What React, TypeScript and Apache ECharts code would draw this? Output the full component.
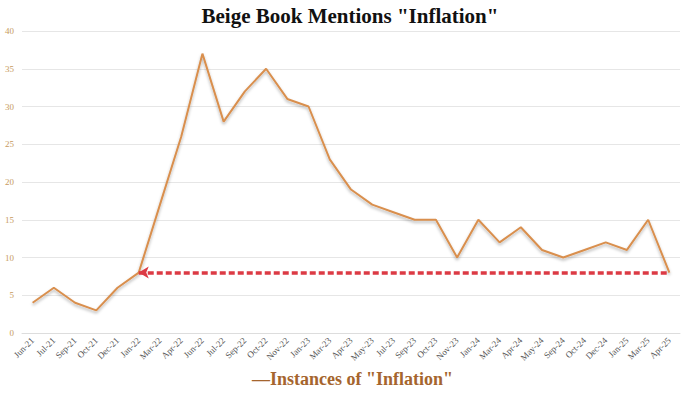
import React, { useEffect, useRef } from "react";
import * as echarts from "echarts";

const categories = [
  "Jun-21", "Jul-21", "Sep-21", "Oct-21", "Dec-21", "Jan-22", "Mar-22", "Apr-22",
  "Jun-22", "Jul-22", "Sep-22", "Oct-22", "Nov-22", "Jan-23", "Mar-23", "Apr-23",
  "May-23", "Jul-23", "Sep-23", "Oct-23", "Nov-23", "Jan-24", "Mar-24", "Apr-24",
  "May-24", "Sep-24", "Oct-24", "Dec-24", "Jan-25", "Mar-25", "Apr-25",
];
const inflationMentions = [
  4, 6, 4, 3, 6, 8, 17, 26,
  37, 28, 32, 35, 31, 30, 23, 19,
  17, 16, 15, 15, 10, 15, 12, 14,
  11, 10, 11, 12, 11, 15, 8,
];
const seriesName = 'Instances of "Inflation"';
const titleText = 'Beige Book Mentions "Inflation"';
const arrowFrom = "Jan-22";
const arrowTo = "Apr-25";
const arrowLevel = 8;

export default function App() {
  const ref = useRef<HTMLDivElement>(null);
  useEffect(() => {
    if (!ref.current) return;
    const chart = echarts.init(ref.current, null, { renderer: "svg" });
    const serif = "'Liberation Serif', 'DejaVu Serif', serif";
    chart.setOption({
      animation: false,
      backgroundColor: "#ffffff",
      title: {
        text: titleText,
        left: "center",
        top: 0,
        textStyle: { fontFamily: serif, fontWeight: "bold", fontSize: 21, color: "#111" },
      },
      legend: {
        bottom: 1,
        left: "center",
        icon: "none",
        itemWidth: 0,
        itemGap: 0,
        formatter: (n: string) => "\u2014" + n,
        textStyle: { fontFamily: serif, fontWeight: "bold", fontSize: 18, color: "#a5652e" },
      },
      grid: { left: 22, right: 20, top: 31, bottom: 61 },
      xAxis: {
        type: "category",
        data: categories,
        boundaryGap: true,
        axisLine: { show: true, lineStyle: { color: "#dddddd" } },
        axisTick: { show: false },
        axisLabel: {
          rotate: 45,
          interval: 0,
          fontFamily: serif,
          fontSize: 9,
          color: "#555",
          margin: 6,
        },
      },
      yAxis: {
        type: "value",
        min: 0,
        max: 40,
        interval: 5,
        axisLine: { show: false },
        axisTick: { show: false },
        splitLine: { lineStyle: { color: "#e6e6e6" } },
        axisLabel: { fontFamily: serif, fontSize: 9, color: "#c79a5e", margin: 8 },
      },
      series: [
        {
          name: seriesName,
          type: "line",
          data: inflationMentions,
          symbol: "none",
          lineStyle: {
            color: "#d98f4e",
            width: 2,
            shadowColor: "rgba(0,0,0,0.3)",
            shadowBlur: 3,
            shadowOffsetY: 2,
          },
          itemStyle: { color: "#d98f4e" },
          markLine: {
            silent: true,
            label: { show: false },
            symbol: ["arrow", "none"],
            symbolSize: [9, 10],
            lineStyle: {
              color: "#dc3a44",
              width: 3.5,
              type: [6, 3],
            },
            data: [
              [
                { coord: [arrowFrom, arrowLevel] },
                { coord: [arrowTo, arrowLevel] },
              ],
            ],
          },
        },
      ],
    });
    return () => chart.dispose();
  }, []);
  return <div ref={ref} style={{ width: 700, height: 394, position: "absolute", left: 0, top: 0 }} />;
}
